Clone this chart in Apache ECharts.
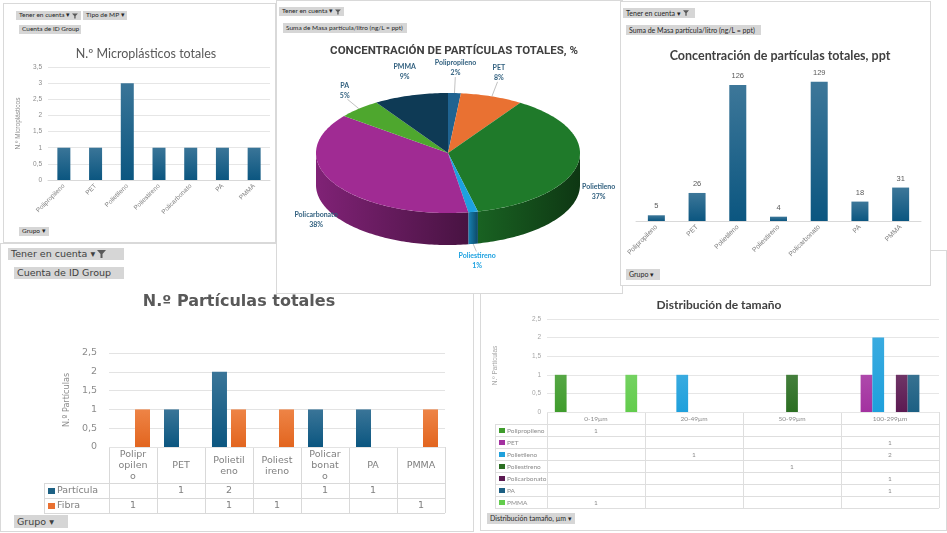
<!DOCTYPE html>
<html>
<head>
<meta charset="utf-8">
<script src="https://cdn.jsdelivr.net/npm/echarts@6/dist/echarts.min.js"></script>
<style>
  body { margin:0; width:947px; height:533px; background:#fff; position:relative; overflow:hidden; font-family:Lato, "Noto Sans", sans-serif; }
  .panel { position:absolute; background:#fff; border:1px solid #d9d9d9; box-sizing:border-box; }
  .chart { position:absolute; left:0; top:0; width:100%; height:100%; }
  .btn { position:absolute; background:#d6d6d6; color:#262626; white-space:nowrap; line-height:1; display:flex; align-items:center; padding:0 3px; box-sizing:border-box; z-index:10; }
  .btn svg { margin-left:2px; }
  .big { font-family:"DejaVu Sans", sans-serif; color:#404040; }
</style>
</head>
<body>

<div class="panel" style="left:480px;top:250px;width:467px;height:281px;z-index:1">
  <div class="chart" id="c5"></div>
  <div class="btn" style="left:6px;top:262px;width:88px;height:11px;font-size:7px">Distribución tamaño, µm&nbsp;▾</div>
</div>

<div class="panel" style="left:0px;top:243px;width:474px;height:289px;z-index:2">
  <div class="chart" id="c4"></div>
  <div class="btn big" style="left:7px;top:4px;width:116px;height:12px;font-size:9.5px">Tener en cuenta&nbsp;▾<svg width="9" height="8" viewBox="0 0 9 8"><path d="M0 0H9L5.5 4V8H3.5V4Z" fill="#595959"/></svg></div>
  <div class="btn big" style="left:13px;top:23px;width:110px;height:12px;font-size:9.5px">Cuenta de ID Group</div>
  <div class="btn big" style="left:13px;top:271px;width:54px;height:13px;font-size:9.5px">Grupo&nbsp;▾</div>
</div>

<div class="panel" style="left:3px;top:3px;width:273px;height:240px;z-index:3">
  <div class="chart" id="c1"></div>
  <div class="btn" style="left:12px;top:7px;width:65px;height:9px;font-size:6.5px">Tener en cuenta&nbsp;▾<svg width="6" height="6" viewBox="0 0 9 8"><path d="M0 0H9L5.5 4V8H3.5V4Z" fill="#595959"/></svg></div>
  <div class="btn" style="left:79px;top:7px;width:44px;height:9px;font-size:6.5px">Tipo de MP&nbsp;▾</div>
  <div class="btn" style="left:15px;top:21px;width:62px;height:9px;font-size:6.5px">Cuenta de ID Group</div>
  <div class="btn" style="left:15px;top:223px;width:30px;height:9px;font-size:6.5px">Grupo&nbsp;▾</div>
</div>

<div class="panel" style="left:276px;top:0px;width:347px;height:294px;z-index:4">
  <div class="chart" id="c2"></div>
  <div class="btn" style="left:2px;top:6px;width:65px;height:9px;font-size:6.5px">Tener en cuenta&nbsp;▾<svg width="6" height="6" viewBox="0 0 9 8"><path d="M0 0H9L5.5 4V8H3.5V4Z" fill="#595959"/></svg></div>
  <div class="btn" style="left:6px;top:22px;width:124px;height:10px;font-size:6.5px">Suma de Masa partícula/litro (ng/L = ppt)</div>
</div>

<div class="panel" style="left:620px;top:1px;width:311px;height:285px;z-index:5">
  <div class="chart" id="c3"></div>
  <div class="btn" style="left:2px;top:6px;width:72px;height:10px;font-size:7px">Tener en cuenta&nbsp;▾<svg width="6" height="6" viewBox="0 0 9 8"><path d="M0 0H9L5.5 4V8H3.5V4Z" fill="#595959"/></svg></div>
  <div class="btn" style="left:5px;top:23px;width:135px;height:10px;font-size:7px">Suma de Masa partícula/litro (ng/L = ppt)</div>
  <div class="btn" style="left:5px;top:267px;width:34px;height:11px;font-size:7px">Grupo&nbsp;▾</div>
</div>

<script>
// ---- datos ----
var grupos = ['Polipropileno', 'PET', 'Polietileno', 'Poliestireno', 'Policarbonato', 'PA', 'PMMA'];
var numMicroplasticos = [1, 1, 3, 1, 1, 1, 1];
// ng/L (ppt); the chart shows them rounded
var concPpt = [5.3, 26, 126, 4, 129, 18, 31];

var tiposParticula = ['Partícula', 'Fibra'];
var numParticula = [null, 1, 2, null, 1, 1, null];
var numFibra = [1, null, 1, 1, null, null, 1];

var rangosTamano = ['0-19µm', '20-49µm', '50-99µm', '100-299µm'];
var tamPolipropileno = [1, null, null, null];
var tamPET = [null, null, null, 1];
var tamPolietileno = [null, 1, null, 2];
var tamPoliestireno = [null, null, 1, null];
var tamPolicarbonato = [null, null, null, 1];
var tamPA = [null, null, null, 1];
var tamPMMA = [1, null, null, null];

// ---- estilos ----
var pieColors = ['#1f6391', '#e97132', '#1f7a2a', '#1da1e0', '#a02b93', '#4ea72e', '#0e3a55'];
var tamColors = ['#3f9c2c', '#a331a0', '#1ea0dc', '#2b6e22', '#5c1a52', '#1c5f83', '#62cc4c'];

function grad(top, bottom) {
  return new echarts.graphic.LinearGradient(0, 0, 0, 1, [{offset: 0, color: top}, {offset: 1, color: bottom}]);
}
function darken(c, k) {
  var a = echarts.color.parse(c);
  return 'rgb(' + Math.round(a[0] * k) + ',' + Math.round(a[1] * k) + ',' + Math.round(a[2] * k) + ')';
}
function coma(v) { return String(v).replace('.', ','); }

var blueBar = grad('#3a7598', '#0b5680');
var orangeBar = grad('#ee8446', '#e2651f');

// tabla de datos (estilo Excel) hecha con graphic
function tableGraphic(o) {
  var els = [], n = o.cols.length, cw = o.gw / n, nr = o.rows.length;
  var yb = o.y0 + o.hh + nr * o.rh, gr = o.gx + o.gw;
  function ln(x1, y1, x2, y2) {
    els.push({type: 'line', silent: true, shape: {x1: x1, y1: y1, x2: x2, y2: y2}, style: {stroke: o.line, lineWidth: 1}});
  }
  ln(o.gx, o.y0 + 0.5, gr, o.y0 + 0.5);
  for (var r = 0; r <= nr; r++) {
    var y = Math.round(o.y0 + o.hh + r * o.rh) + 0.5;
    ln(o.x0, y, gr, y);
  }
  for (var c = 0; c <= n; c++) {
    var x = Math.round(o.gx + c * cw) + 0.5;
    ln(x, o.y0, x, yb);
  }
  ln(o.x0 + 0.5, o.y0 + o.hh, o.x0 + 0.5, yb);
  for (c = 0; c < n; c++) {
    els.push({type: 'text', silent: true, style: {
      text: o.cols[c], x: o.gx + (c + 0.5) * cw, y: o.y0 + o.hh / 2 + 1,
      align: 'center', verticalAlign: 'middle', width: o.wrap || cw, overflow: o.wrap ? 'breakAll' : null,
      lineHeight: o.lh, fontFamily: o.font, fontSize: o.fs, fill: o.color}});
  }
  for (r = 0; r < nr; r++) {
    var yc = o.y0 + o.hh + (r + 0.5) * o.rh + 0.5;
    els.push({type: 'rect', silent: true, shape: {x: o.x0 + 4, y: yc - o.key / 2, width: o.key + 1, height: o.key}, style: {fill: o.rows[r].color}});
    els.push({type: 'text', silent: true, style: {
      text: o.rows[r].name, x: o.x0 + o.key + 7, y: yc, verticalAlign: 'middle',
      fontFamily: o.font, fontSize: o.fs, fill: o.color}});
    for (c = 0; c < n; c++) {
      var v = o.rows[r].values[c];
      if (v == null) continue;
      els.push({type: 'text', silent: true, style: {
        text: String(v), x: o.gx + (c + 0.5) * cw, y: yc, align: 'center', verticalAlign: 'middle',
        fontFamily: o.font, fontSize: o.fs, fill: o.color}});
    }
  }
  return els;
}

// ---- 1. N.º Microplásticos totales ----
var chart1 = echarts.init(document.getElementById('c1'));
chart1.setOption({
  animation: false,
  title: {text: 'N.º Microplásticos totales', left: 137, top: 38, textAlign: 'center',
    textStyle: {fontFamily: 'Lato', fontSize: 12.5, fontWeight: 'normal', color: '#595959'}},
  grid: {left: 44, top: 63, width: 222, height: 113},
  xAxis: {type: 'category', data: grupos, axisTick: {show: false},
    axisLine: {lineStyle: {color: '#d9d9d9'}},
    axisLabel: {rotate: 45, fontSize: 6.5, color: '#7f7f7f', margin: 5, interval: 0}},
  yAxis: {type: 'value', min: 0, max: 3.5, interval: 0.5,
    name: 'N.º Microplásticos', nameLocation: 'middle', nameGap: 19,
    nameTextStyle: {fontSize: 6.5, color: '#8c8c8c'},
    axisLabel: {fontSize: 6.5, color: '#8c8c8c', formatter: coma, margin: 6},
    splitLine: {lineStyle: {color: '#e6e6e6'}}},
  series: [{type: 'bar', data: numMicroplasticos, barWidth: 13, itemStyle: {color: blueBar}}]
});

// ---- 2. pastel 3D ----
var pieTotal = concPpt.reduce(function (a, b) { return a + b; }, 0);
var pieGeo = {cx: 171, cy: 152, rx: 132, ry: 60, depth: 32};
function sliceAngles(i) {
  var start = 0;
  for (var k = 0; k < i; k++) start += concPpt[k];
  return [start / pieTotal * 2 * Math.PI, (start + concPpt[i]) / pieTotal * 2 * Math.PI];
}
function pt(a, dy) { return [pieGeo.cx + pieGeo.rx * Math.sin(a), pieGeo.cy - pieGeo.ry * Math.cos(a) + (dy || 0)]; }

function pieItem(params, api) {
  var i = params.dataIndex, ang = sliceAngles(i), a0 = ang[0], a1 = ang[1];
  var color = pieColors[i], children = [];
  var top = [[pieGeo.cx, pieGeo.cy]], n = Math.max(2, Math.ceil((a1 - a0) / 0.02)), s;
  for (s = 0; s <= n; s++) top.push(pt(a0 + (a1 - a0) * s / n));
  var f0 = Math.max(a0, Math.PI / 2), f1 = Math.min(a1, 1.5 * Math.PI);
  if (f1 > f0) {
    var up = [], down = [], m = Math.max(2, Math.ceil((f1 - f0) / 0.02));
    for (s = 0; s <= m; s++) {
      var a = f0 + (f1 - f0) * s / m;
      up.push(pt(a));
      down.unshift(pt(a, pieGeo.depth));
    }
    children.push({type: 'polygon', z2: 1, shape: {points: up.concat(down)},
      style: {fill: new echarts.graphic.LinearGradient(0, 0, 1, 0, [
        {offset: 0, color: darken(color, 0.8)},
        {offset: 1, color: darken(color, 0.45)}])}});
  }
  children.push({type: 'polygon', z2: 5, shape: {points: top}, style: {fill: color}});
  return {type: 'group', children: children};
}

function pieLabel(params, api) {
  var i = params.dataIndex, ang = sliceAngles(i);
  var mid = (ang[0] + ang[1]) / 2, sn = Math.sin(mid), cs = Math.cos(mid);
  var lx = pieGeo.cx + (pieGeo.rx + 21) * sn;
  var ly = pieGeo.cy - (pieGeo.ry + 25) * cs + (cs < 0 ? 24 : 0);
  var frac = api.value(0) / pieTotal, children = [];
  if (frac < 0.085) {
    var edge = pt(mid, cs < 0 ? pieGeo.depth : 0);
    children.push({type: 'line', shape: {x1: edge[0], y1: edge[1], x2: lx - 4 * sn, y2: ly + (cs < 0 ? -9 : 9)},
      style: {stroke: '#a6a6a6', lineWidth: 0.7}});
  }
  children.push({type: 'text', style: {
    text: grupos[i] + '\n' + Math.round(frac * 100) + '%', x: lx, y: ly, align: 'center', verticalAlign: 'middle',
    lineHeight: 10, fontFamily: 'Lato', fontWeight: 'bold', fontSize: 7,
    fill: grupos[i] === 'Poliestireno' ? '#1da1e0' : '#31607f'}});
  return {type: 'group', children: children};
}

var chart2 = echarts.init(document.getElementById('c2'));
chart2.setOption({
  animation: false,
  title: {text: 'CONCENTRACIÓN DE PARTÍCULAS TOTALES, %', left: 172, top: 39, textAlign: 'center',
    textStyle: {fontFamily: 'Roboto', fontSize: 11.5, fontWeight: 'bold', color: '#404040'}},
  series: [
    {type: 'custom', coordinateSystem: 'none', data: concPpt, renderItem: pieItem, z: 2},
    {type: 'custom', coordinateSystem: 'none', data: concPpt, renderItem: pieLabel, z: 5}
  ]
});

// ---- 3. Concentración ppt ----
var chart3 = echarts.init(document.getElementById('c3'));
chart3.setOption({
  animation: false,
  title: {text: 'Concentración de partículas totales, ppt', left: 154, top: 42, textAlign: 'center',
    textStyle: {fontFamily: 'Lato', fontSize: 12.5, fontWeight: 'bold', color: '#404040'}},
  grid: {left: 15, top: 68, width: 285, height: 151},
  xAxis: {type: 'category', data: grupos, axisTick: {show: false},
    axisLine: {lineStyle: {color: '#d9d9d9'}},
    axisLabel: {rotate: 45, fontSize: 6.8, color: '#7f7f7f', margin: 5, interval: 0}},
  yAxis: {type: 'value', min: 0, max: 140, show: false, splitLine: {show: false}},
  series: [{type: 'bar', data: concPpt, barWidth: 17, itemStyle: {color: grad('#3d7799', '#0b5680')},
    label: {show: true, position: 'top', fontSize: 7.5, color: '#595959', distance: 5,
      formatter: function (p) { return Math.round(p.value); }}}]
});

// ---- 4. N.º Partículas totales ----
var chart4 = echarts.init(document.getElementById('c4'));
var t4 = {x0: 43, gx: 108, gw: 336, y0: 203, hh: 36, rh: 15, key: 6, font: 'DejaVu Sans', fs: 9.5, lh: 11,
  wrap: 32, color: '#7f7f7f', line: '#d9d9d9', cols: grupos,
  rows: [{name: tiposParticula[0], color: '#1d6184', values: numParticula},
         {name: tiposParticula[1], color: '#e97132', values: numFibra}]};
chart4.setOption({
  animation: false,
  title: {text: 'N.º Partículas totales', left: 233, top: 45, textAlign: 'center',
    textStyle: {fontFamily: 'DejaVu Sans', fontSize: 16, fontWeight: 'bold', color: '#595959'}},
  grid: {left: 108, top: 109, width: 336, height: 94},
  xAxis: {type: 'category', data: grupos, axisTick: {show: false}, axisLabel: {show: false},
    axisLine: {show: false}},
  yAxis: {type: 'value', min: 0, max: 2.5, interval: 0.5,
    name: 'N.º Partículas', nameLocation: 'middle', nameGap: 36,
    nameTextStyle: {fontFamily: 'DejaVu Sans Condensed', fontSize: 9, color: '#8c8c8c'},
    axisLabel: {fontFamily: 'DejaVu Sans', fontSize: 9.5, color: '#8c8c8c', formatter: coma, margin: 12},
    splitLine: {lineStyle: {color: '#e3e3e3'}}},
  series: [
    {type: 'bar', name: tiposParticula[0], data: numParticula, barWidth: 15, barGap: '27%', itemStyle: {color: blueBar}},
    {type: 'bar', name: tiposParticula[1], data: numFibra, barWidth: 15, barGap: '27%', itemStyle: {color: orangeBar}}
  ],
  graphic: tableGraphic(t4)
});

// ---- 5. Distribución de tamaño ----
var tamSeries = [tamPolipropileno, tamPET, tamPolietileno, tamPoliestireno, tamPolicarbonato, tamPA, tamPMMA];
var chart5 = echarts.init(document.getElementById('c5'));
var t5 = {x0: 14, gx: 66, gw: 392, y0: 161, hh: 12, rh: 12, key: 5, font: 'Lato', fs: 6.5, lh: 8,
  color: '#8c8c8c', line: '#dedede', cols: rangosTamano,
  rows: grupos.map(function (g, i) { return {name: g, color: tamColors[i], values: tamSeries[i]}; })};
chart5.setOption({
  animation: false,
  title: {text: 'Distribución de tamaño', left: 233, top: 43, textAlign: 'center',
    textStyle: {fontFamily: 'Lato', fontSize: 12, fontWeight: 'bold', color: '#404040'}},
  grid: {left: 66, top: 68, width: 392, height: 93},
  xAxis: {type: 'category', data: rangosTamano, axisTick: {show: false}, axisLabel: {show: false},
    axisLine: {show: false}},
  yAxis: {type: 'value', min: 0, max: 2.5, interval: 0.5,
    name: 'N.º Partículas', nameLocation: 'middle', nameGap: 48,
    nameTextStyle: {fontSize: 6.5, color: '#a6a6a6'},
    axisLabel: {fontSize: 6.5, color: '#a6a6a6', formatter: coma, margin: 6},
    splitLine: {lineStyle: {color: '#e6e6e6'}}},
  series: tamSeries.map(function (d, i) {
    return {type: 'bar', name: grupos[i], data: d, barGap: 0, barCategoryGap: '16%',
      itemStyle: {color: grad(echarts.color.lift(tamColors[i], 0.12), tamColors[i])}};
  }),
  graphic: tableGraphic(t5)
});
</script>
</body>
</html>
